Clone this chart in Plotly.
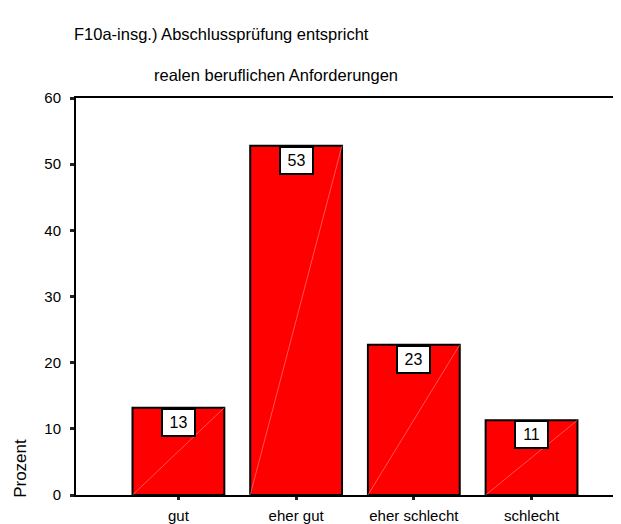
import plotly.graph_objects as go

# Data
categories = ["gut", "eher gut", "eher schlecht", "schlecht"]
percent = [13.2, 52.8, 22.7, 11.3]
labels = ["13", "53", "23", "11"]

title_line1 = "F10a-insg.) Abschlussprüfung entspricht"
title_line2 = "realen beruflichen Anforderungen"
y_title = "Prozent"

FONT = "Liberation Sans, Arial, sans-serif"
BAR_WIDTH = 0.78

positions = list(range(len(categories)))

fig = go.Figure()

fig.add_trace(
    go.Bar(
        x=positions,
        y=percent,
        width=BAR_WIDTH,
        marker=dict(color="#ff0000", line=dict(color="black", width=2)),
        hoverinfo="skip",
    )
)

# faint diagonal seen inside each bar
for pos, value in zip(positions, percent):
    fig.add_shape(
        type="line",
        xref="x",
        yref="y",
        x0=pos - BAR_WIDTH / 2,
        y0=0,
        x1=pos + BAR_WIDTH / 2,
        y1=value,
        line=dict(color="rgba(255,150,150,0.7)", width=0.8),
        layer="above",
    )

# value boxes at the top of each bar
for pos, value, text in zip(positions, percent, labels):
    fig.add_annotation(
        x=pos,
        y=value,
        xref="x",
        yref="y",
        text=text,
        showarrow=False,
        yanchor="top",
        xanchor="center",
        width=31,
        height=25,
        bgcolor="white",
        bordercolor="black",
        borderwidth=2,
        borderpad=0,
        font=dict(family=FONT, size=16, color="black"),
    )

fig.add_annotation(
    x=-0.008,
    y=1.16,
    xref="paper",
    yref="paper",
    text=title_line1,
    showarrow=False,
    xanchor="left",
    yanchor="middle",
    font=dict(family=FONT, size=16.5, color="black"),
)
fig.add_annotation(
    x=0.367,
    y=1.058,
    xref="paper",
    yref="paper",
    text=title_line2,
    showarrow=False,
    xanchor="center",
    yanchor="middle",
    font=dict(family=FONT, size=16.5, color="black"),
)
fig.add_annotation(
    x=-0.103,
    y=0.068,
    xref="paper",
    yref="paper",
    text=y_title,
    textangle=-90,
    showarrow=False,
    xanchor="center",
    yanchor="middle",
    font=dict(family=FONT, size=17, color="black"),
)

fig.update_xaxes(
    range=[-0.87, 3.76],
    tickvals=positions,
    ticktext=categories,
    showline=True,
    linecolor="black",
    linewidth=2,
    mirror=True,
    ticks="outside",
    ticklen=3,
    tickwidth=3,
    tickcolor="#222",
    ticklabelstandoff=3,
    showgrid=False,
    zeroline=False,
    tickfont=dict(family=FONT, size=15, color="black"),
)
fig.update_yaxes(
    range=[0, 60],
    dtick=10,
    showline=True,
    linecolor="black",
    linewidth=2,
    ticks="outside",
    ticklen=4,
    tickwidth=3,
    tickcolor="#222",
    ticklabelstandoff=6,
    showgrid=False,
    zeroline=False,
    tickfont=dict(family=FONT, size=15, color="black"),
)

# the page body has an 8px margin, so the figure is shrunk by that much
fig.update_layout(
    width=613,
    height=516,
    margin=dict(l=68, r=0, t=90, b=27),
    plot_bgcolor="white",
    paper_bgcolor="white",
    showlegend=False,
)

fig.write_html("out.html")
